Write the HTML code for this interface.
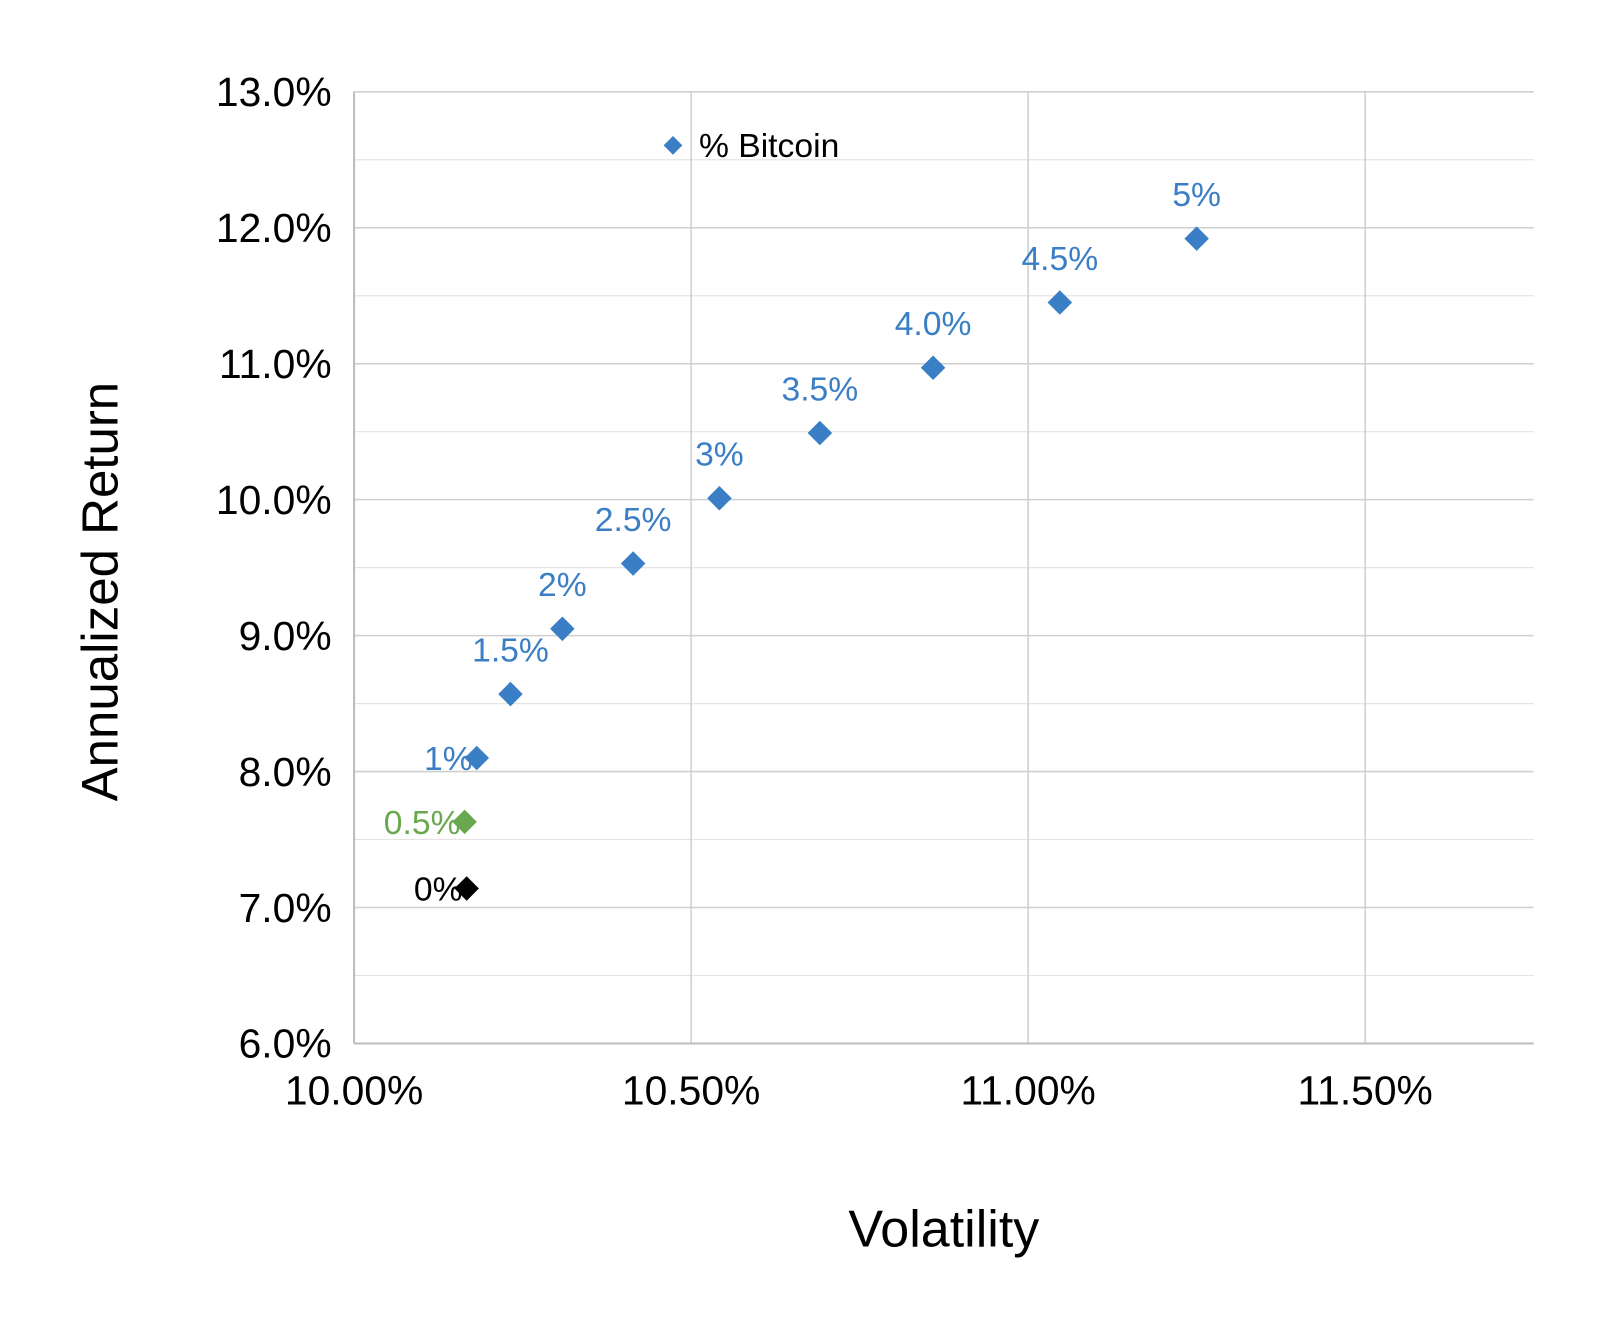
<!DOCTYPE html>
<html><head><meta charset="utf-8"><style>
html,body{margin:0;padding:0;background:#fff}
svg{display:block;font-family:"Liberation Sans",Arial,sans-serif}
</style></head><body>
<svg id="chart" width="1600" height="1326" viewBox="0 0 1568 1300" preserveAspectRatio="none" xmlns="http://www.w3.org/2000/svg">
<rect width="1568" height="1300" fill="#fff"/>
<g id="grid"></g><g id="axes"></g><g id="marks"></g>
<g>
<rect x="653" y="136" width="13" height="13" transform="rotate(45 659.5 142.5)" fill="#3A7EC6"/>
<text x="685" y="154" font-size="33" fill="#000">% Bitcoin</text>
</g>
<text x="925" y="1222" font-size="51" text-anchor="middle">Volatility</text>
<text transform="translate(115 580) rotate(-90)" font-size="50" text-anchor="middle">Annualized Return</text>
</svg>
<script>
const labels=["0%","0.5%","1%","1.5%","2%","2.5%","3%","3.5%","4.0%","4.5%","5%"];
const volatility=[10.167,10.164,10.182,10.232,10.309,10.414,10.542,10.691,10.859,11.047,11.25];
const returns=[7.14,7.63,8.10,8.57,9.05,9.53,10.01,10.49,10.97,11.45,11.92];
const colors=["#000","#6AA84F","#3A7EC6","#3A7EC6","#3A7EC6","#3A7EC6","#3A7EC6","#3A7EC6","#3A7EC6","#3A7EC6","#3A7EC6"];
const xTicks=[10.0,10.5,11.0,11.5];
const xTickLabels=["10.00%","10.50%","11.00%","11.50%"];
const yTicks=[6,7,8,9,10,11,12,13];
const yTickLabels=["6.0%","7.0%","8.0%","9.0%","10.0%","11.0%","12.0%","13.0%"];
const L=347,R=1503,T=90,B=1023,xmin=10,xmax=11.75,ymin=6,ymax=13;
const X=v=>L+(v-xmin)/(xmax-xmin)*(R-L);
const Y=v=>B-(v-ymin)/(ymax-ymin)*(B-T);
const NS="http://www.w3.org/2000/svg";
function mk(tag,attrs,parent,txt){const e=document.createElementNS(NS,tag);for(const k in attrs)e.setAttribute(k,attrs[k]);if(txt!==undefined)e.textContent=txt;parent.appendChild(e);return e;}
const grid=document.getElementById('grid'),axes=document.getElementById('axes'),marks=document.getElementById('marks');
for(let i=0;i<yTicks.length;i++){
  const y=Y(yTicks[i]);
  const g=mk('line',{x1:L,x2:R,y1:y,y2:y,stroke:'#cfcfcf','stroke-width':1.5},grid);
  
  
  if(i<yTicks.length-1){const ym=Y(yTicks[i]+0.5);const m=mk('line',{x1:L,x2:R,y1:ym,y2:ym,stroke:'#e4e4e4','stroke-width':1.2},grid);
  
  }
  const t=mk('text',{x:L-22,y:y+14,'font-size':40,'text-anchor':'end'},axes,yTickLabels[i]);
  
  
}
for(let i=0;i<xTicks.length;i++){
  const x=X(xTicks[i]);
  const g=mk('line',{x1:x,x2:x,y1:T,y2:B,stroke:'#cfcfcf','stroke-width':1.5},grid);
  
  
  const t=mk('text',{x:x,y:B+60,'font-size':40,'text-anchor':'middle'},axes,xTickLabels[i]);
  
  
}
const ax=mk('line',{x1:L,x2:L,y1:T,y2:B,stroke:'#bdbdbd','stroke-width':2},axes);


const bx=mk('line',{x1:L,x2:R,y1:B,y2:B,stroke:'#bdbdbd','stroke-width':2},axes);


for(let i=0;i<labels.length;i++){
  const x=X(volatility[i]),y=Y(returns[i]);
  const p=mk('rect',{x:x-8.5,y:y-8.5,width:17,height:17,fill:colors[i],transform:`rotate(45 ${x} ${y})`},marks);
  
  
  let t;
  if(i<3) t=mk('text',{x:x-4,y:y+12,'font-size':33,'text-anchor':'end',fill:colors[i]},marks,labels[i]);
  else t=mk('text',{x:x,y:y-32,'font-size':33,'text-anchor':'middle',fill:colors[i]},marks,labels[i]);
  
  
}
</script>
</body></html>
